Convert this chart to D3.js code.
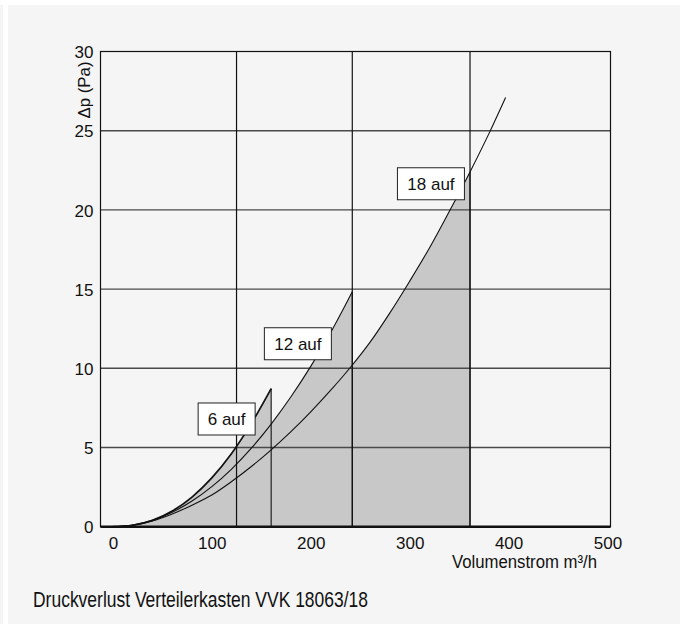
<!DOCTYPE html>
<html>
<head>
<meta charset="utf-8">
<script src="https://cdn.jsdelivr.net/npm/d3@7"></script>
<style>
  html, body { margin: 0; padding: 0; background: #ffffff; }
  svg { display: block; }
  text { font-family: "Liberation Sans", Arial, sans-serif; fill: #111; }
</style>
</head>
<body>
<script>
// Pressure loss of distributor box VVK 18063/18, by number of open outlets
const flowTicks = [0, 100, 200, 300, 400, 500];
const pressureTicks = [0, 5, 10, 15, 20, 25, 30];
const markerFlows = [125, 242, 361];          // vertical reference lines (m³/h)

const seriesNames = ["6 auf", "12 auf", "18 auf"];
const flow6  = [0, 20, 40, 60, 80, 100, 120, 140, 160];
const dp6    = [0, 0.09, 0.40, 0.99, 1.87, 3.08, 4.62, 6.52, 8.72];
const flow12 = [0, 20, 40, 60, 80, 100, 120, 140, 160, 180, 200, 220, 242];
const dp12   = [0, 0.10, 0.40, 0.91, 1.62, 2.53, 3.64, 4.96, 6.48, 8.20, 10.12, 12.25, 14.84];
const flow18 = [0, 20, 40, 60, 80, 100, 120, 140, 160, 180, 200, 220, 240, 260, 280, 300, 320, 340, 361, 380, 397];
const dp18   = [0, 0.09, 0.36, 0.80, 1.36, 2.0, 2.85, 3.8, 4.85, 6.0, 7.25, 8.6, 10.05, 11.65, 13.5, 15.5, 17.6, 19.9, 22.4, 24.8, 27.1];
const shadeLimits = [160, 242, 361];           // end of the shaded operating range per series

const W = 683, H = 624;
const svg = d3.select("body").append("svg").attr("width", W).attr("height", H);

// light panel
svg.append("rect").attr("x", 8).attr("y", 5).attr("width", 672).attr("height", H - 5).attr("fill", "#f5f5f5");
svg.append("rect").attr("x", 0).attr("y", 5).attr("width", 3).attr("height", H - 5).attr("fill", "#f5f5f5");

const x = d3.scaleLinear().domain([-12.5, 503]).range([100.5, 610.5]);
const y = d3.scaleLinear().domain([0, 30]).range([526.7, 51.5]);

const series = [
  { name: seriesNames[0], q: flow6,  p: dp6,  end: shadeLimits[0], width: 1.7, label: [115, 6.8],   box: 57 },
  { name: seriesNames[1], q: flow12, p: dp12, end: shadeLimits[1], width: 1.1, label: [187, 11.55], box: 67 },
  { name: seriesNames[2], q: flow18, p: dp18, end: shadeLimits[2], width: 1.1, label: [321.5, 21.65], box: 67 }
].map(s => ({ ...s, pts: s.q.map((q, i) => [q, s.p[i]]) }));

const area = d3.area().x(d => x(d[0])).y0(y(0)).y1(d => y(d[1])).curve(d3.curveMonotoneX);
const line = d3.line().x(d => x(d[0])).y(d => y(d[1])).curve(d3.curveMonotoneX);

// shaded ranges
svg.append("g").selectAll("path").data(series).join("path")
  .attr("d", s => area(s.pts.filter(d => d[0] <= s.end)))
  .attr("fill", "#c8c8c8");

// horizontal grid
svg.append("g").selectAll("line").data(pressureTicks.filter(v => v > 0 && v < 30)).join("line")
  .attr("x1", x.range()[0]).attr("x2", x.range()[1])
  .attr("y1", d => y(d)).attr("y2", d => y(d))
  .attr("stroke", "#4a4a4a").attr("stroke-width", 1.4);

// vertical reference lines
svg.append("g").selectAll("line").data(markerFlows).join("line")
  .attr("x1", d => x(d)).attr("x2", d => x(d))
  .attr("y1", y(0)).attr("y2", y(30))
  .attr("stroke", "#111").attr("stroke-width", 1.2);

// right edge of each shaded range
svg.append("g").selectAll("line").data(series).join("line")
  .attr("x1", s => x(s.end)).attr("x2", s => x(s.end))
  .attr("y1", y(0)).attr("y2", s => y(s.pts.find(d => d[0] === s.end)[1]))
  .attr("stroke", "#111").attr("stroke-width", 1.1);

// frame
svg.append("rect")
  .attr("x", x.range()[0]).attr("y", y(30))
  .attr("width", x.range()[1] - x.range()[0]).attr("height", y(0) - y(30))
  .attr("fill", "none").attr("stroke", "#111").attr("stroke-width", 1.2);
svg.append("line")
  .attr("x1", x.range()[0]).attr("x2", x.range()[1])
  .attr("y1", y(0)).attr("y2", y(0))
  .attr("stroke", "#111").attr("stroke-width", 2.4);

// curves
svg.append("g").selectAll("path").data(series).join("path")
  .attr("d", s => line(s.pts))
  .attr("fill", "none").attr("stroke", "#111").attr("stroke-width", s => s.width);

// axes (labels only, no tick marks)
const xAxis = d3.axisBottom(x).tickValues(flowTicks).tickSize(0).tickPadding(0);
const gx = svg.append("g").attr("transform", `translate(0, ${y(0) + 6})`).call(xAxis);
gx.select(".domain").remove();
gx.selectAll("text").attr("font-size", 17).attr("fill", "#111").attr("dy", "0.95em")
  .attr("font-family", "'Liberation Sans', Arial, sans-serif");

const yAxis = d3.axisLeft(y).tickValues(pressureTicks).tickSize(0).tickPadding(0);
const gy = svg.append("g").attr("transform", `translate(${x.range()[0] - 7}, 0)`).call(yAxis);
gy.select(".domain").remove();
gy.selectAll("text").attr("font-size", 17).attr("fill", "#111").attr("dy", "0.36em")
  .attr("font-family", "'Liberation Sans', Arial, sans-serif");

// axis titles
svg.append("text")
  .attr("transform", `translate(89.5, 90) rotate(-90)`)
  .attr("text-anchor", "middle").attr("font-size", 17)
  .attr("textLength", 57).attr("lengthAdjust", "spacingAndGlyphs")
  .text("Δp (Pa)");
svg.append("text")
  .attr("x", 597).attr("y", 568).attr("text-anchor", "end").attr("font-size", 18)
  .attr("textLength", 145).attr("lengthAdjust", "spacingAndGlyphs")
  .text("Volumenstrom m³/h");

// series labels
const lab = svg.append("g").selectAll("g").data(series).join("g")
  .attr("transform", s => `translate(${x(s.label[0])}, ${y(s.label[1])})`);
lab.append("rect")
  .attr("x", s => -s.box / 2).attr("y", -16).attr("width", s => s.box).attr("height", 32)
  .attr("fill", "#ffffff").attr("stroke", "#222").attr("stroke-width", 1);
lab.append("text")
  .attr("text-anchor", "middle").attr("dy", "0.36em").attr("font-size", 17)
  .text(s => s.name);

// caption
svg.append("text")
  .attr("x", 33).attr("y", 607).attr("font-size", 22)
  .attr("textLength", 335).attr("lengthAdjust", "spacingAndGlyphs")
  .text("Druckverlust Verteilerkasten VVK 18063/18");
</script>
</body>
</html>
